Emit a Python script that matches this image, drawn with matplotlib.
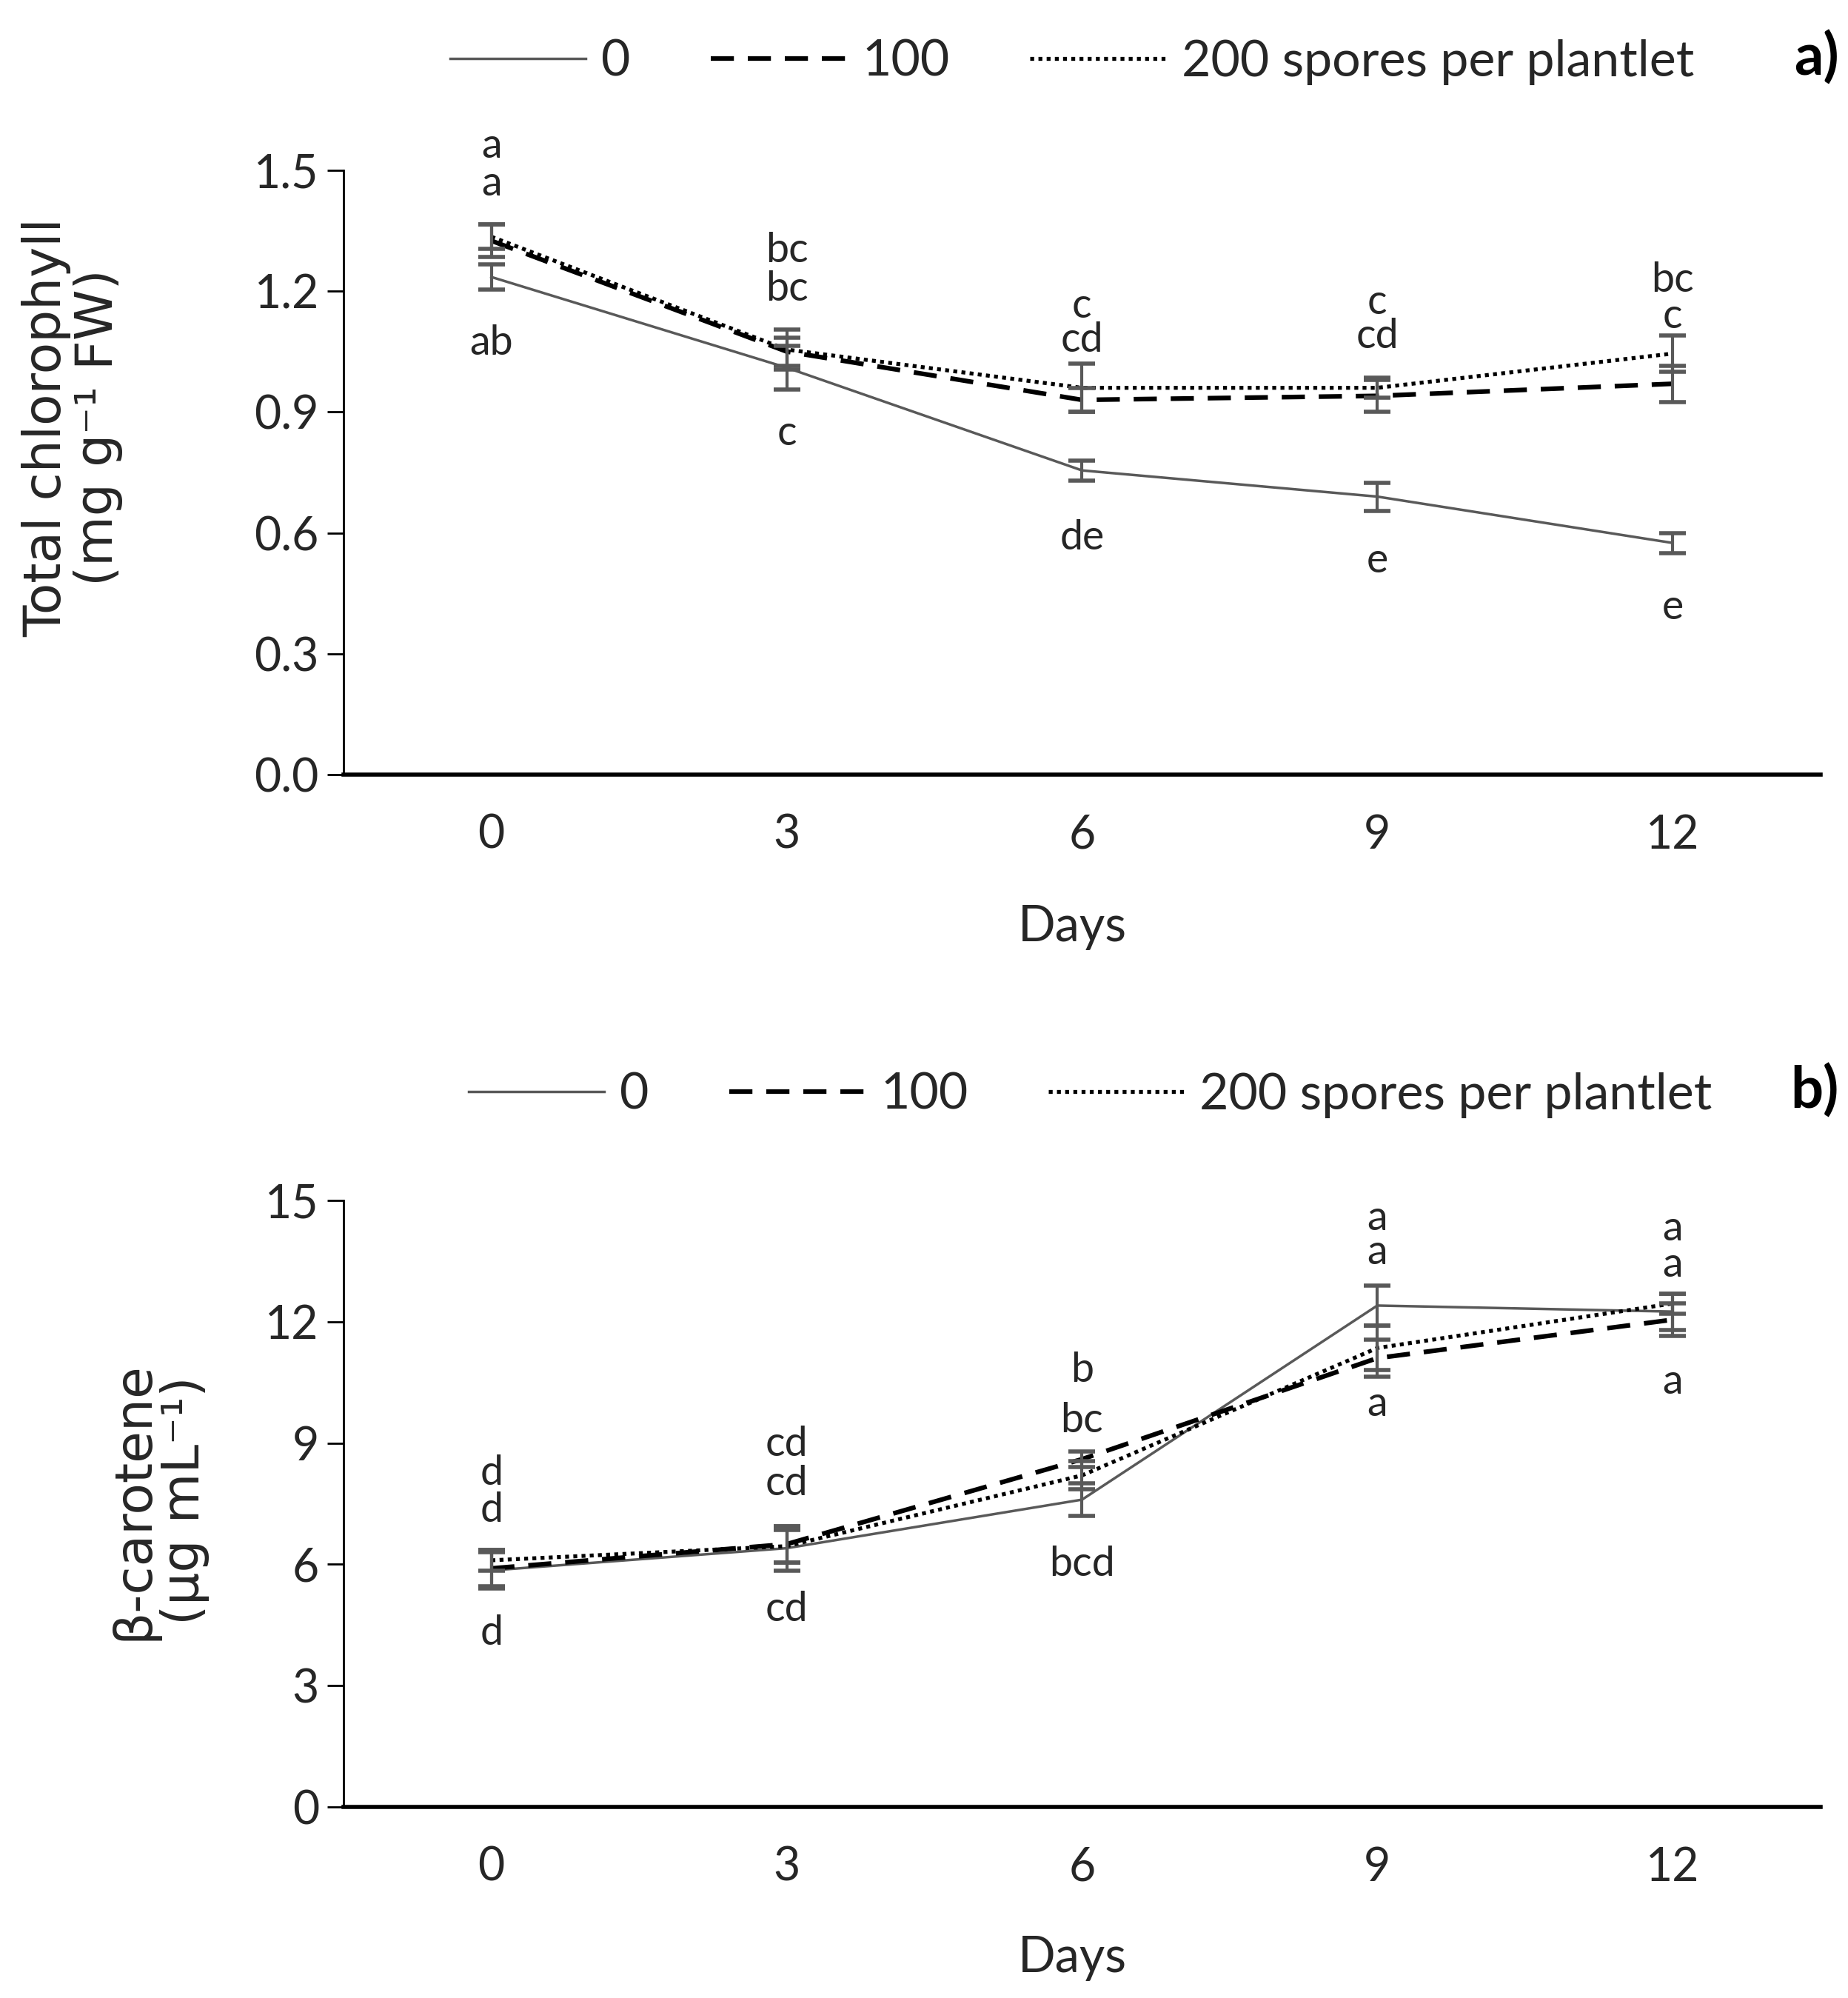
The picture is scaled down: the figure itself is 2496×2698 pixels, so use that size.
import matplotlib
matplotlib.use("Agg")
import matplotlib.pyplot as plt
from matplotlib.lines import Line2D

# datos
days = ["0", "3", "6", "9", "12"]
series_names = ["0", "100", "200 spores per plantlet"]

chl_0 = [1.235, 1.01, 0.755, 0.69, 0.575]
chl_0_err = [0.032, 0.055, 0.025, 0.035, 0.025]
chl_100 = [1.325, 1.05, 0.93, 0.94, 0.97]
chl_100_err = [0.04, 0.035, 0.03, 0.04, 0.045]
chl_200 = [1.335, 1.055, 0.96, 0.96, 1.045]
chl_200_err = [0.03, 0.05, 0.06, 0.025, 0.045]

car_0 = [5.85, 6.4, 7.6, 12.4, 12.25]
car_0_err = [0.45, 0.55, 0.4, 0.5, 0.45]
car_100 = [5.9, 6.5, 8.6, 11.1, 12.05]
car_100_err = [0.45, 0.45, 0.2, 0.45, 0.4]
car_200 = [6.1, 6.45, 8.2, 11.35, 12.45]
car_200_err = [0.25, 0.4, 0.35, 0.55, 0.25]

# letras de significancia (por dia) y su altura
chl_letters = [["a", "a", "ab"], ["bc", "bc", "c"], ["c", "cd", "de"],
               ["c", "cd", "e"], ["bc", "c", "e"]]
chl_letter_y = [[1.56, 1.466, 1.07], [1.30, 1.204, 0.847], [1.162, 1.078, 0.587],
                [1.172, 1.088, 0.53], [1.227, 1.137, 0.415]]
car_letters = [["d", "d", "d"], ["cd", "cd", "cd"], ["b", "bc", "bcd"],
               ["a", "a", "a"], ["a", "a", "a"]]
car_letter_y = [[8.25, 7.33, 4.3], [8.96, 8.0, 4.88], [10.8, 9.56, 6.0],
                [14.55, 13.7, 9.95], [14.3, 13.4, 10.5]]

plt.rcParams['font.family'] = ['Lato', 'DejaVu Sans']

W, H = 2496, 2698
fig = plt.figure(figsize=(W / 100, H / 100), dpi=100)

gris = "#595959"
texto = "#262626"
estilos = [
    dict(color=gris, lw=2.5, ls="-"),
    dict(color="black", lw=4.5, ls=(0, (5, 3))),
    dict(color="black", lw=3.8, ls=(0, (1, 1.1))),
]


def panel(rect, medias, errores, ylim, yticks, fmt, letras, letras_y,
          ylabel, ylabel_pos, legend_y, legend_x, tag, days_y):
    ax = fig.add_axes(rect)
    x = list(range(len(days)))
    for m, st in zip(medias, estilos):
        ax.plot(x, m, **st, zorder=2)
    for m, e in zip(medias, errores):
        ax.errorbar(x, m, yerr=e, fmt="none", ecolor=gris, elinewidth=3,
                    capsize=13, capthick=4, zorder=3)
    for i, (ls_, ys_) in enumerate(zip(letras, letras_y)):
        for t, yy in zip(ls_, ys_):
            ax.text(i, yy, t, ha="center", va="center", fontsize=40,
                    color=texto)
    ax.set_xlim(-0.5, len(days) - 0.5)
    ax.set_ylim(*ylim)
    ax.set_xticks(x)
    ax.set_xticklabels(days)
    ax.set_yticks(yticks)
    ax.set_yticklabels([fmt.format(v) for v in yticks])
    ax.tick_params(axis="x", length=0, pad=38, labelsize=45, labelcolor=texto)
    ax.tick_params(axis="y", length=16, width=2, pad=8, labelsize=45,
                   labelcolor=texto)
    for s in ["top", "right"]:
        ax.spines[s].set_visible(False)
    ax.spines["left"].set_linewidth(2)
    ax.spines["bottom"].set_linewidth(4)

    fig.text(ylabel_pos[0], ylabel_pos[1], ylabel, rotation=90, ha="center",
             va="center", fontsize=50, family="DejaVu Sans", color=texto,
             multialignment="center", linespacing=1.05)
    fig.text(rect[0] + rect[2] / 2 - 0.005, days_y, "Days", ha="center",
             va="center", fontsize=48, color=texto)

    handles = [Line2D([], [], **st) for st in estilos]
    fig.legend(handles, series_names, loc="center",
               bbox_to_anchor=(legend_x, legend_y), ncol=3, frameon=False,
               fontsize=49, handlelength=2.7, handletextpad=0.3,
               columnspacing=1.6, labelcolor=texto)
    fig.text(0.995, legend_y + 0.002, tag, ha="right", va="center",
             fontsize=56, fontweight="bold")
    return ax


panel([0.186, 0.6123, 0.799, 0.3025],
      [chl_0, chl_100, chl_200], [chl_0_err, chl_100_err, chl_200_err],
      (0, 1.5), [0.0, 0.3, 0.6, 0.9, 1.2, 1.5], "{:.1f}",
      chl_letters, chl_letter_y,
      "Total chlorophyll\n(mg g\u207b\u00b9 FW)", (0.039, 0.786),
      0.969, 0.580, "a)", 0.536)

panel([0.186, 0.0956, 0.799, 0.3036],
      [car_0, car_100, car_200], [car_0_err, car_100_err, car_200_err],
      (0, 15), [0, 3, 6, 9, 12, 15], "{:d}",
      car_letters, car_letter_y,
      "\u03b2-carotene\n(\u00b5g mL\u207b\u00b9)", (0.086, 0.249),
      0.452, 0.590, "b)", 0.02)

fig.savefig("out.png", dpi=100)
